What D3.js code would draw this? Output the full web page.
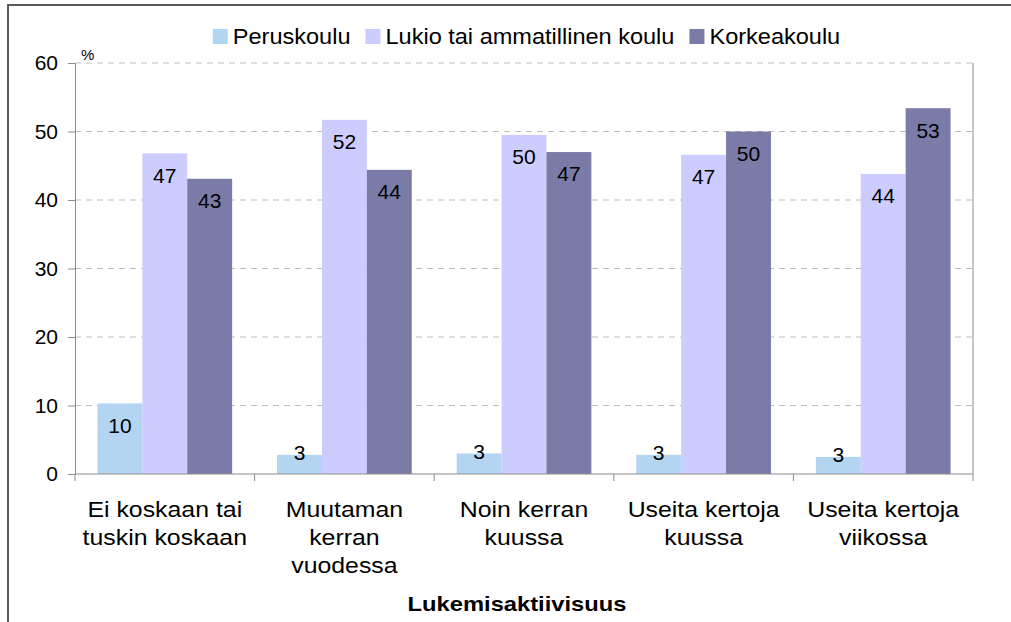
<!DOCTYPE html>
<meta charset="utf-8">
<style>
  body { margin: 0; background: #fff; }
  svg { display: block; font-family: "Liberation Sans", Arial, sans-serif; }
</style>
<body>
<div id="chart"></div>
<script src="https://d3js.org/d3.v7.min.js"></script>
<script>
  // data
  const categories = [
    ["Ei koskaan tai", "tuskin koskaan"],
    ["Muutaman", "kerran", "vuodessa"],
    ["Noin kerran", "kuussa"],
    ["Useita kertoja", "kuussa"],
    ["Useita kertoja", "viikossa"]
  ];
  const seriesNames = ["Peruskoulu", "Lukio tai ammatillinen koulu", "Korkeakoulu"];
  const peruskoulu = [10.3, 2.8, 3.0, 2.8, 2.5];
  const lukio = [46.8, 51.7, 49.5, 46.6, 43.8];
  const korkeakoulu = [43.1, 44.4, 47.0, 50.0, 53.4];
  const yTicks = [0, 10, 20, 30, 40, 50, 60];
  const colors = ["#B4D5F2", "#CCCCFF", "#7B7BA8"];

  const width = 1011, height = 622;
  const plot = { left: 75, right: 973, top: 63, bottom: 474 };
  // the original text is a bit wider than Liberation Sans at the same height
  const stretch = 1.13;

  const svg = d3.select("#chart").append("svg")
    .attr("width", width)
    .attr("height", height);

  // outer chart frame (cut off at right/bottom like the original)
  svg.append("rect")
    .attr("x", 8).attr("y", 5)
    .attr("width", 1020).attr("height", 640)
    .attr("fill", "none")
    .attr("stroke", "#5a5a5a")
    .attr("stroke-width", 2);

  const x0 = d3.scaleBand()
    .domain(d3.range(categories.length))
    .range([plot.left, plot.right])
    .paddingInner(0.25)
    .paddingOuter(0.125);
  const x1 = d3.scaleBand()
    .domain(d3.range(seriesNames.length))
    .range([0, x0.bandwidth()]);
  const y = d3.scaleLinear().domain([0, 60]).range([plot.bottom, plot.top]);

  // gridlines
  svg.append("g")
    .selectAll("line")
    .data(yTicks.filter(d => d > 0))
    .join("line")
      .attr("x1", plot.left).attr("x2", plot.right)
      .attr("y1", d => y(d)).attr("y2", d => y(d))
      .attr("stroke", "#bdbdbd")
      .attr("stroke-dasharray", "6,5");

  // plot area right border
  svg.append("line")
    .attr("x1", plot.right).attr("x2", plot.right)
    .attr("y1", plot.top).attr("y2", plot.bottom)
    .attr("stroke", "#8c8c8c");

  // bars
  const series = [peruskoulu, lukio, korkeakoulu];
  const groups = svg.append("g")
    .selectAll("g")
    .data(categories.map((c, i) => i))
    .join("g")
      .attr("transform", i => `translate(${x0(i)},0)`);

  groups.selectAll("rect")
    .data(i => series.map((s, k) => ({ k, v: s[i] })))
    .join("rect")
      .attr("x", d => x1(d.k))
      .attr("y", d => y(d.v))
      .attr("width", x1.bandwidth())
      .attr("height", d => y(0) - y(d.v))
      .attr("fill", d => colors[d.k]);

  // value labels (inside end, or just above when the bar is short)
  groups.selectAll("text")
    .data(i => series.map((s, k) => ({ k, v: s[i] })))
    .join("text")
      .attr("x", d => x1(d.k) + x1.bandwidth() / 2)
      .attr("y", d => (y(0) - y(d.v) > 40 ? y(d.v) + 22 : y(d.v) - 2))
      .attr("dy", "0.35em")
      .attr("text-anchor", "middle")
      .attr("font-size", 21)
      .attr("fill", "#000")
      .text(d => Math.round(d.v));

  // y axis
  const yAxis = svg.append("g")
    .attr("transform", `translate(${plot.left},0)`)
    .call(d3.axisLeft(y).tickValues(yTicks).tickSize(7).tickPadding(10));
  yAxis.select(".domain").attr("stroke", "#8c8c8c");
  yAxis.selectAll(".tick line").attr("stroke", "#8c8c8c");
  yAxis.selectAll(".tick text")
    .attr("font-size", 21)
    .attr("font-family", "Liberation Sans, Arial, sans-serif")
    .attr("fill", "#000");

  svg.append("text")
    .attr("x", 81).attr("y", 60)
    .attr("font-size", 15)
    .text("%");

  // x axis
  const xLine = svg.append("g");
  xLine.append("line")
    .attr("x1", plot.left).attr("x2", plot.right)
    .attr("y1", plot.bottom).attr("y2", plot.bottom)
    .attr("stroke", "#8c8c8c");
  xLine.selectAll("line.tick")
    .data(d3.range(categories.length + 1))
    .join("line")
      .attr("class", "tick")
      .attr("x1", i => plot.left + i * x0.step())
      .attr("x2", i => plot.left + i * x0.step())
      .attr("y1", plot.bottom).attr("y2", plot.bottom + 7)
      .attr("stroke", "#8c8c8c");

  const xLabels = svg.append("g")
    .selectAll("text")
    .data(categories.map((c, i) => i))
    .join("text")
      .attr("transform", i => `translate(${x0(i) + x0.bandwidth() / 2},517) scale(${stretch},1)`)
      .attr("text-anchor", "middle")
      .attr("font-size", 22);
  xLabels.selectAll("tspan")
    .data(i => categories[i])
    .join("tspan")
      .attr("x", 0)
      .attr("dy", (d, j) => (j === 0 ? 0 : 28))
      .text(d => d);

  svg.append("text")
    .attr("transform", `translate(517,611) scale(${stretch},1)`)
    .attr("text-anchor", "middle")
    .attr("font-size", 21)
    .attr("font-weight", "bold")
    .text("Lukemisaktiivisuus");

  // legend
  const legendStretch = 1.07;
  const legend = svg.append("g");
  let lx = 0;
  seriesNames.forEach((name, k) => {
    const g = legend.append("g").attr("transform", `translate(${lx},0)`);
    g.append("rect")
      .attr("x", 0).attr("y", -7)
      .attr("width", 15).attr("height", 15)
      .attr("fill", colors[k]);
    const t = g.append("text")
      .attr("transform", `translate(20,0) scale(${legendStretch},1)`)
      .attr("dy", "0.35em")
      .attr("font-size", 22)
      .text(name);
    lx += 20 + t.node().getComputedTextLength() * legendStretch + 15;
  });
  const legendW = lx - 15;
  legend.attr("transform", `translate(${526.5 - legendW / 2},36)`);
</script>
</body>
